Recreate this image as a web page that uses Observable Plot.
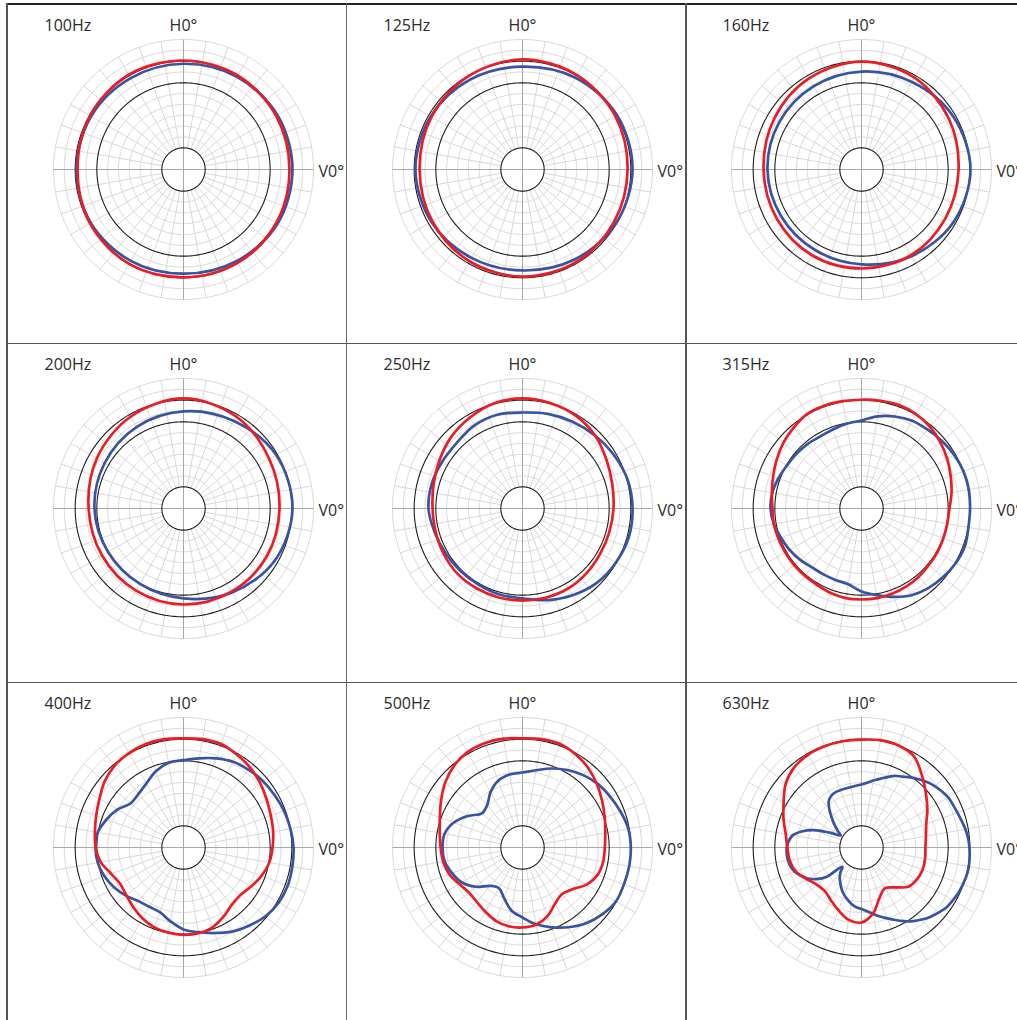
<!DOCTYPE html>
<html>
<head>
<meta charset="utf-8">
<script src="https://cdn.jsdelivr.net/npm/d3@7"></script>
<script src="https://cdn.jsdelivr.net/npm/@observablehq/plot@0.6"></script>
<style>
  html, body { margin: 0; padding: 0; background: #fff; }
  body { width: 1017px; height: 1020px; overflow: hidden; position: relative; font-family: "Open Sans", sans-serif; }
  .panel { position: absolute; }
  .rule { position: absolute; background: #555; }
</style>
</head>
<body>
<script>
// ---- data (levels in dB, 0 dB = outer ring, centre = -60 dB; angle clockwise from H0°) ----
const labels = ["100Hz", "125Hz", "160Hz", "200Hz", "250Hz", "315Hz", "400Hz", "500Hz", "630Hz"];
const angles30 = d3.range(0, 360, 30);
const angles15 = d3.range(0, 360, 15);
const angles10 = d3.range(0, 360, 10);
const angles5 = d3.range(0, 360, 5);

const red100  = [-9.7,-9.9,-10.6,-11.1,-10.6,-10.2,-10.2,-9.7,-10.2,-11.1,-10.2,-9.5];
const blue100 = [-11.2,-10.6,-9.9,-9.7,-9.9,-11.1,-11.9,-11.3,-10.6,-10.6,-10.8,-11.3];
const red125  = [-9.2,-9.7,-10.6,-11.5,-11.3,-10.6,-10.6,-11.1,-12.0,-12.5,-11.5,-10.2];
const blue125 = [-12.5,-11.1,-9.7,-9.2,-10.2,-12.0,-13.4,-12.9,-11.5,-10.6,-11.1,-12.0];
const red160  = [-10.2,-11.1,-13.4,-15.2,-15.2,-14.3,-14.3,-14.3,-14.8,-14.8,-13.4,-11.5];
const blue160 = [-14.8,-13.4,-11.1,-9.7,-11.1,-13.8,-16.2,-17.1,-17.1,-16.6,-16.2,-15.7];
const red200  = [-9.2,-11.1,-14.3,-15.7,-15.7,-15.7,-15.7,-16.2,-16.6,-16.2,-13.8,-11.1];
const blue200 = [-15.2,-13.4,-10.6,-9.7,-11.5,-15.2,-18.5,-19.8,-19.8,-18.9,-18.0,-16.6];
const red250  = [-9.2,-9.7,-10.6,-12.5,-15.2,-17.1,-18.0,-18.5,-18.5,-18.0,-17.5,-17.5,-17.5,-17.5,-17.5,-17.5,-18.0,-18.5,-18.5,-17.5,-15.7,-13.4,-11.5,-9.7];
const blue250 = [-15.7,-14.8,-13.8,-12.5,-11.1,-9.7,-9.2,-9.2,-10.2,-11.5,-13.8,-16.2,-18.5,-18.9,-19.4,-19.4,-18.9,-18.0,-16.6,-16.6,-17.1,-17.1,-15.7,-15.2];
const red315  = [-9.8,-9.5,-9.2,-9.7,-10.8,-12.5,-14.3,-16.2,-17.8,-19.4,-19.8,-19.8,-19.6,-19.4,-18.9,-18.5,-18.2,-18.0,-18.0,-18.0,-18.5,-19.2,-19.4,-19.4,-19.4,-19.2,-18.9,-18.9,-18.0,-16.6,-14.8,-12.9,-11.3,-9.7,-9.5,-9.7];
const blue315 = [-19.4,-16.8,-14.8,-13.2,-12.5,-11.5,-10.6,-9.9,-9.7,-9.9,-9.9,-9.2,-9.7,-10.8,-12.0,-13.8,-16.6,-19.4,-21.7,-24.5,-24.9,-24.9,-24.5,-23.1,-21.7,-20.5,-18.9,-18.0,-18.2,-19.2,-20.3,-20.8,-21.2,-21.7,-21.2,-20.3];
const red400  = [-9.6,-9.2,-9.2,-10.6,-12.0,-13.8,-15.7,-17.1,-18.0,-18.9,-19.8,-21.7,-24.0,-25.8,-25.4,-23.1,-20.8,-19.8,-19.7,-20.1,-20.8,-22.2,-24.0,-25.6,-26.3,-24.5,-21.2,-19.4,-18.5,-17.1,-15.2,-12.5,-10.6,-9.7,-9.2,-9.2];
const blue400 = [-19.7,-18.2,-16.2,-14.3,-13.2,-12.2,-11.5,-10.6,-9.9,-9.2,-9.0,-8.8,-9.2,-10.6,-12.9,-15.2,-18.0,-20.3,-22.2,-25.4,-28.2,-28.4,-27.7,-25.4,-23.1,-21.2,-19.8,-19.4,-19.8,-22.2,-24.9,-28.2,-27.7,-25.8,-22.6,-20.3];
const red500  = [-9.6,-9.2,-9.2,-10.6,-12.5,-15.0,-17.5,-19.6,-21.2,-22.0,-22.2,-23.1,-25.8,-30.0,-31.8,-30.0,-26.3,-23.8,-23.1,-23.1,-24.0,-25.8,-27.2,-27.7,-26.3,-24.0,-22.8,-22.2,-21.2,-19.4,-16.6,-13.4,-10.8,-9.2,-8.8,-9.0];
const blue500 = [-25.4,-23.8,-21.2,-18.7,-16.4,-14.5,-13.2,-11.8,-10.4,-10.0,-10.0,-10.2,-10.2,-12.0,-14.3,-17.5,-20.8,-24.0,-27.7,-30.5,-35.1,-38.3,-36.9,-31.8,-27.7,-25.4,-23.5,-23.1,-23.5,-26.3,-30.9,-35.5,-34.6,-30.5,-27.2,-25.8];
const red630  = [-10.2,-9.7,-9.9,-11.5,-16.6,-21.2,-24.9,-28.2,-29.8,-30.5,-30.2,-30.0,-30.5,-31.8,-36.0,-38.3,-35.5,-29.1,-25.4,-26.1,-29.1,-31.8,-33.7,-33.2,-30.9,-27.7,-26.3,-25.8,-24.5,-21.7,-18.5,-14.3,-11.7,-10.6,-10.3,-10.2];
const blue630 = [-30.9,-30.0,-28.6,-27.2,-25.4,-23.5,-22.2,-20.5,-18.9,-17.3,
                 -15.9,-14.8,-13.8,-13.4,-12.9,-12.2,-11.3,-10.6,-10.2,-9.9,
                 -9.7,-9.8,-10.2,-10.6,-11.3,-12.0,-13.4,-14.8,-16.6,-18.5,
                 -20.8,-23.1,-25.2,-27.0,-28.8,-30.5,-31.6,-32.3,-33.5,-35.1,
                 -36.7,-38.5,-40.6,-42.5,-44.8,-47.5,-38.8,-34.6,-31.4,-29.1,
                 -27.2,-26.1,-25.6,-25.4,-25.5,-26.3,-27.7,-31.4,-36.5,-43.8,
                 -48.9,-46.6,-43.8,-40.6,-36.9,-33.7,-32.3,-31.8,-31.8,-31.8,
                 -31.7,-31.4];

const grayRings = [-45, -40, -35, -30, -25, -15, -5, 0];
const blackRings = [-10, -20, -50];
const spokeAngles = d3.range(0, 360, 10);
const axisAngles = [0, 90, 180, 270];
const axisLabels = {top: "H0°", right: "V0°"};

const panels = [
  {label: labels[0], red: [red100, angles30], blue: [blue100, angles30]},
  {label: labels[1], red: [red125, angles30], blue: [blue125, angles30]},
  {label: labels[2], red: [red160, angles30], blue: [blue160, angles30]},
  {label: labels[3], red: [red200, angles30], blue: [blue200, angles30]},
  {label: labels[4], red: [red250, angles15], blue: [blue250, angles15]},
  {label: labels[5], red: [red315, angles10], blue: [blue315, angles10]},
  {label: labels[6], red: [red400, angles10], blue: [blue400, angles10]},
  {label: labels[7], red: [red500, angles10], blue: [blue500, angles10]},
  {label: labels[8], red: [red630, angles10], blue: [blue630, angles5]}
];

// ---- helpers: angle -> longitude, level -> latitude (azimuthal equidistant around the pole) ----
const lon = a => 180 - a;
const lat = db => 30 - db;
const series = ([vals, angs]) => vals.map((db, i) => ({angle: angs[i], db}));
const ring = db => d3.geoCircle().center([0, 90]).radius(60 + db).precision(1)();

const RED = "#ec1c24", BLUE = "#3953a4", GRID = "#d8d8d8", AXIS = "#a8a8a8", INK = "#2b2b2b";
const font = {fontFamily: "'Open Sans', sans-serif", fontSize: 16, fill: INK, lineAnchor: "middle"};

function panel(p) {
  return Plot.plot({
    width: 339,
    height: 339,
    marginLeft: 45, marginRight: 34, marginTop: 35, marginBottom: 44,
    projection: {
      type: "azimuthal-equidistant",
      rotate: [0, -90],
      domain: d3.geoCircle().center([0, 90]).radius(60)()
    },
    marks: [
      Plot.geo(grayRings, {geometry: ring, fill: "none", stroke: GRID, strokeWidth: 1}),
      Plot.link(spokeAngles, {x1: lon, y1: lat(-50), x2: lon, y2: lat(0), stroke: GRID, strokeWidth: 1}),
      Plot.link(axisAngles, {x1: lon, y1: lat(-60), x2: lon, y2: lat(0), stroke: AXIS, strokeWidth: 1}),
      Plot.geo(blackRings, {geometry: ring, fill: "none", stroke: "#1e1e1e", strokeWidth: 1.1}),
      Plot.line(series(p.blue), {x: d => lon(d.angle), y: d => lat(d.db), curve: "catmull-rom-closed", stroke: BLUE, strokeWidth: 2.7}),
      Plot.line(series(p.red), {x: d => lon(d.angle), y: d => lat(d.db), curve: "catmull-rom-closed", stroke: RED, strokeWidth: 2.7}),
      Plot.text([p.label], {text: d => d, frameAnchor: "top-left", textAnchor: "start", dx: -9, dy: -14, ...font}),
      Plot.text([axisLabels.top], {text: d => d, frameAnchor: "top", dy: -14, ...font}),
      Plot.text([axisLabels.right], {text: d => d, frameAnchor: "right", textAnchor: "start", dx: 5, dy: 2, ...font})
    ]
  });
}

panels.forEach((p, i) => {
  const svg = panel(p);
  svg.classList.add("panel");
  svg.style.left = (8 + (i % 3) * 339) + "px";
  svg.style.top = (4 + Math.floor(i / 3) * 339) + "px";
  svg.style.background = "transparent";
  document.body.appendChild(svg);
});

// grid frame lines
function rule(l, t, w, h, c) {
  const d = document.createElement("div");
  d.className = "rule";
  Object.assign(d.style, {left: l + "px", top: t + "px", width: w + "px", height: h + "px", background: c});
  document.body.appendChild(d);
}
rule(7, 3.3, 1010, 1.8, "#222");
rule(7, 342.5, 1010, 1.5, "#555");
rule(7, 681.5, 1010, 1.5, "#555");
rule(6.3, 3.3, 1.5, 1017, "#555");
rule(345.8, 3.3, 1.5, 1017, "#666");
rule(685.2, 3.3, 1.5, 1017, "#555");
</script>
</body>
</html>
